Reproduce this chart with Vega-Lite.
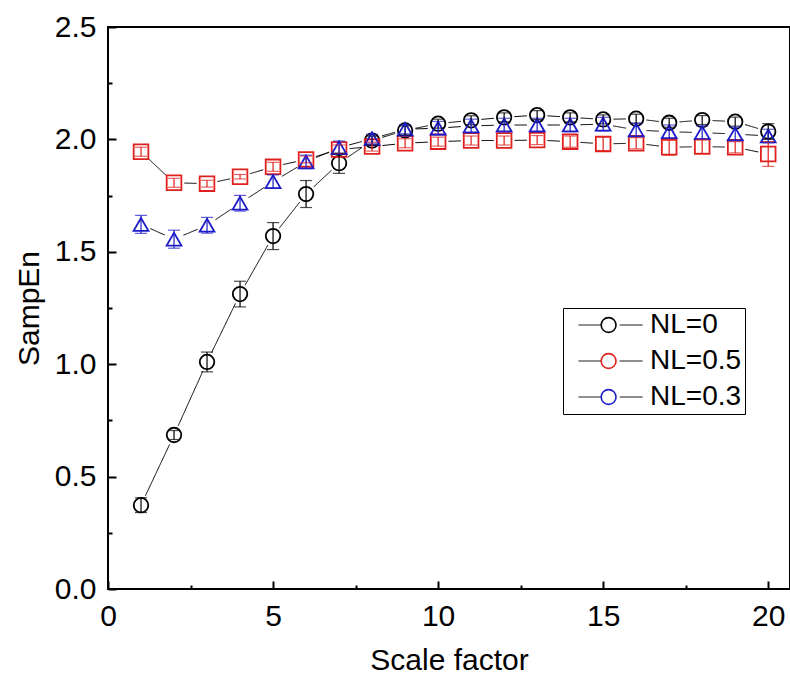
{
  "$schema": "https://vega.github.io/schema/vega-lite/v6.json",
  "width": 682,
  "height": 562,
  "autosize": {"type": "none"},
  "padding": {"left": 108, "top": 27, "right": 0, "bottom": 88},
  "background": "white",
  "config": {
    "view": {"stroke": "black", "strokeWidth": 2},
    "font": "Liberation Sans",
    "axis": {
      "domain": false,
      "grid": false,
      "labelFlush": false,
      "labelFont": "Liberation Sans",
      "titleFont": "Liberation Sans",
      "labelFontSize": 30,
      "titleFontSize": 30,
      "titleFontWeight": "normal",
      "labelColor": "black",
      "titleColor": "black",
      "tickColor": "black"
    },
    "legend": {"labelFont": "Liberation Sans", "labelColor": "black"}
  },
  "data": {
    "values": [
      {"x": 1, "NL": "0", "name": "NL=0", "v": 0.373, "err": 0.033},
      {"x": 2, "NL": "0", "name": "NL=0", "v": 0.685, "err": 0.02},
      {"x": 3, "NL": "0", "name": "NL=0", "v": 1.01, "err": 0.044},
      {"x": 4, "NL": "0", "name": "NL=0", "v": 1.312, "err": 0.057},
      {"x": 5, "NL": "0", "name": "NL=0", "v": 1.57, "err": 0.06},
      {"x": 6, "NL": "0", "name": "NL=0", "v": 1.757, "err": 0.06},
      {"x": 7, "NL": "0", "name": "NL=0", "v": 1.894, "err": 0.045},
      {"x": 8, "NL": "0", "name": "NL=0", "v": 1.995, "err": 0.02},
      {"x": 9, "NL": "0", "name": "NL=0", "v": 2.04, "err": 0.02},
      {"x": 10, "NL": "0", "name": "NL=0", "v": 2.07, "err": 0.02},
      {"x": 11, "NL": "0", "name": "NL=0", "v": 2.085, "err": 0.02},
      {"x": 12, "NL": "0", "name": "NL=0", "v": 2.098, "err": 0.02},
      {"x": 13, "NL": "0", "name": "NL=0", "v": 2.108, "err": 0.02},
      {"x": 14, "NL": "0", "name": "NL=0", "v": 2.098, "err": 0.02},
      {"x": 15, "NL": "0", "name": "NL=0", "v": 2.089, "err": 0.02},
      {"x": 16, "NL": "0", "name": "NL=0", "v": 2.092, "err": 0.02},
      {"x": 17, "NL": "0", "name": "NL=0", "v": 2.074, "err": 0.02},
      {"x": 18, "NL": "0", "name": "NL=0", "v": 2.086, "err": 0.02},
      {"x": 19, "NL": "0", "name": "NL=0", "v": 2.079, "err": 0.02},
      {"x": 20, "NL": "0", "name": "NL=0", "v": 2.035, "err": 0.035},
      {"x": 1, "NL": "0.5", "name": "NL=0.5", "v": 1.945, "err": 0.02},
      {"x": 2, "NL": "0.5", "name": "NL=0.5", "v": 1.807, "err": 0.02},
      {"x": 3, "NL": "0.5", "name": "NL=0.5", "v": 1.803, "err": 0.015},
      {"x": 4, "NL": "0.5", "name": "NL=0.5", "v": 1.834, "err": 0.01},
      {"x": 5, "NL": "0.5", "name": "NL=0.5", "v": 1.878, "err": 0.02},
      {"x": 6, "NL": "0.5", "name": "NL=0.5", "v": 1.911, "err": 0.015},
      {"x": 7, "NL": "0.5", "name": "NL=0.5", "v": 1.955, "err": 0.02},
      {"x": 8, "NL": "0.5", "name": "NL=0.5", "v": 1.968, "err": 0.02},
      {"x": 9, "NL": "0.5", "name": "NL=0.5", "v": 1.983, "err": 0.02},
      {"x": 10, "NL": "0.5", "name": "NL=0.5", "v": 1.99, "err": 0.02},
      {"x": 11, "NL": "0.5", "name": "NL=0.5", "v": 1.995, "err": 0.02},
      {"x": 12, "NL": "0.5", "name": "NL=0.5", "v": 1.995, "err": 0.02},
      {"x": 13, "NL": "0.5", "name": "NL=0.5", "v": 1.997, "err": 0.02},
      {"x": 14, "NL": "0.5", "name": "NL=0.5", "v": 1.99, "err": 0.025},
      {"x": 15, "NL": "0.5", "name": "NL=0.5", "v": 1.98, "err": 0.03},
      {"x": 16, "NL": "0.5", "name": "NL=0.5", "v": 1.983, "err": 0.025},
      {"x": 17, "NL": "0.5", "name": "NL=0.5", "v": 1.965, "err": 0.035},
      {"x": 18, "NL": "0.5", "name": "NL=0.5", "v": 1.968, "err": 0.03},
      {"x": 19, "NL": "0.5", "name": "NL=0.5", "v": 1.965, "err": 0.025},
      {"x": 20, "NL": "0.5", "name": "NL=0.5", "v": 1.935, "err": 0.055},
      {"x": 1, "NL": "0.3", "name": "NL=0.3", "v": 1.622, "err": 0.04},
      {"x": 2, "NL": "0.3", "name": "NL=0.3", "v": 1.556, "err": 0.04},
      {"x": 3, "NL": "0.3", "name": "NL=0.3", "v": 1.618, "err": 0.035},
      {"x": 4, "NL": "0.3", "name": "NL=0.3", "v": 1.716, "err": 0.035},
      {"x": 5, "NL": "0.3", "name": "NL=0.3", "v": 1.812, "err": 0.03},
      {"x": 6, "NL": "0.3", "name": "NL=0.3", "v": 1.9, "err": 0.03},
      {"x": 7, "NL": "0.3", "name": "NL=0.3", "v": 1.963, "err": 0.03},
      {"x": 8, "NL": "0.3", "name": "NL=0.3", "v": 2.003, "err": 0.02},
      {"x": 9, "NL": "0.3", "name": "NL=0.3", "v": 2.045, "err": 0.02},
      {"x": 10, "NL": "0.3", "name": "NL=0.3", "v": 2.05, "err": 0.03},
      {"x": 11, "NL": "0.3", "name": "NL=0.3", "v": 2.06, "err": 0.03},
      {"x": 12, "NL": "0.3", "name": "NL=0.3", "v": 2.064, "err": 0.03},
      {"x": 13, "NL": "0.3", "name": "NL=0.3", "v": 2.064, "err": 0.03},
      {"x": 14, "NL": "0.3", "name": "NL=0.3", "v": 2.064, "err": 0.03},
      {"x": 15, "NL": "0.3", "name": "NL=0.3", "v": 2.068, "err": 0.03},
      {"x": 16, "NL": "0.3", "name": "NL=0.3", "v": 2.042, "err": 0.03},
      {"x": 17, "NL": "0.3", "name": "NL=0.3", "v": 2.034, "err": 0.03},
      {"x": 18, "NL": "0.3", "name": "NL=0.3", "v": 2.03, "err": 0.03},
      {"x": 19, "NL": "0.3", "name": "NL=0.3", "v": 2.024, "err": 0.03},
      {"x": 20, "NL": "0.3", "name": "NL=0.3", "v": 2.015, "err": 0.03}
    ]
  },
  "layer": [
    {
      "mark": {"type": "line", "color": "black", "strokeWidth": 1},
      "encoding": {
        "x": {
          "field": "x", "type": "quantitative",
          "scale": {"domain": [0, 20.66], "nice": false, "zero": false},
          "axis": {"values": [0, 5, 10, 15, 20], "tickSize": -8, "tickWidth": 2, "labelPadding": 20, "title": "Scale factor", "titlePadding": 14}
        },
        "y": {
          "field": "v", "type": "quantitative",
          "scale": {"domain": [0, 2.5], "nice": false},
          "axis": {"values": [0, 0.5, 1, 1.5, 2, 2.5], "format": ".1f", "tickSize": -8, "tickWidth": 2, "labelPadding": 20, "title": "SampEn", "titlePadding": 10}
        },
        "strokeDash": {
          "field": "name", "type": "nominal",
          "scale": {"domain": ["NL=0", "NL=0.5", "NL=0.3"], "range": [[1, 0], [1, 0], [1, 0]]},
          "legend": {
            "orient": "none", "legendX": 455, "legendY": 281, "title": null,
            "symbolType": "M-4,0H-1.15M1.15,0H4", "symbolSize": 256,
            "symbolStrokeColor": "black", "symbolStrokeWidth": 1,
            "symbolOffset": 30.5, "labelOffset": 25.5, "labelFontSize": 28,
            "padding": 3, "rowPadding": 8, "strokeColor": "black"
          }
        }
      }
    },
    {
      "mark": {"type": "circle", "color": "white", "opacity": 1, "size": 430},
      "encoding": {
        "x": {"field": "x", "type": "quantitative", "axis": {"orient": "bottom", "values": [2.5, 7.5, 12.5, 17.5], "tickSize": -4, "tickWidth": 2, "labels": false, "title": null}},
        "y": {"field": "v", "type": "quantitative", "axis": {"orient": "left", "values": [0.25, 0.75, 1.25, 1.75, 2.25], "tickSize": -4, "tickWidth": 2, "labels": false, "title": null}}
      }
    },
    {
      "mark": {"type": "point", "filled": false, "strokeWidth": 1.8, "opacity": 1},
      "encoding": {
        "x": {"field": "x", "type": "quantitative", "axis": null},
        "y": {"field": "v", "type": "quantitative", "axis": null},
        "color": {
          "field": "NL", "type": "nominal",
          "scale": {"domain": ["0", "0.5", "0.3"], "range": ["#000000", "#e0201c", "#1c1cc8"]},
          "legend": {
            "orient": "none", "legendX": 455, "legendY": 281, "title": null,
            "symbolSize": 220, "symbolStrokeWidth": 1.6, "symbolOffset": 28.6,
            "labelExpr": "''", "labelFontSize": 28, "padding": 3, "rowPadding": 8,
            "encode": {"symbols": {"shape": {"scale": "shape", "field": "value"}}}
          }
        },
        "shape": {
          "field": "NL", "type": "nominal",
          "scale": {"domain": ["0", "0.5", "0.3"], "range": ["circle", "square", "triangle-up"]},
          "legend": null
        },
        "size": {
          "field": "NL", "type": "nominal",
          "scale": {"domain": ["0", "0.5", "0.3"], "range": [210, 220, 380]},
          "legend": null
        }
      }
    },
    {
      "mark": {"type": "errorbar", "ticks": true, "size": 12, "thickness": 1.2},
      "encoding": {
        "x": {"field": "x", "type": "quantitative", "axis": null},
        "y": {"field": "v", "type": "quantitative", "axis": null},
        "yError": {"field": "err"},
        "color": {
          "field": "name", "type": "nominal",
          "scale": {"domain": ["NL=0", "NL=0.5", "NL=0.3"], "range": ["#000000", "#e0201c", "#1c1cc8"]},
          "legend": null
        }
      }
    }
  ],
  "resolve": {"axis": {"x": "independent", "y": "independent"}, "scale": {"color": "independent"}}
}
